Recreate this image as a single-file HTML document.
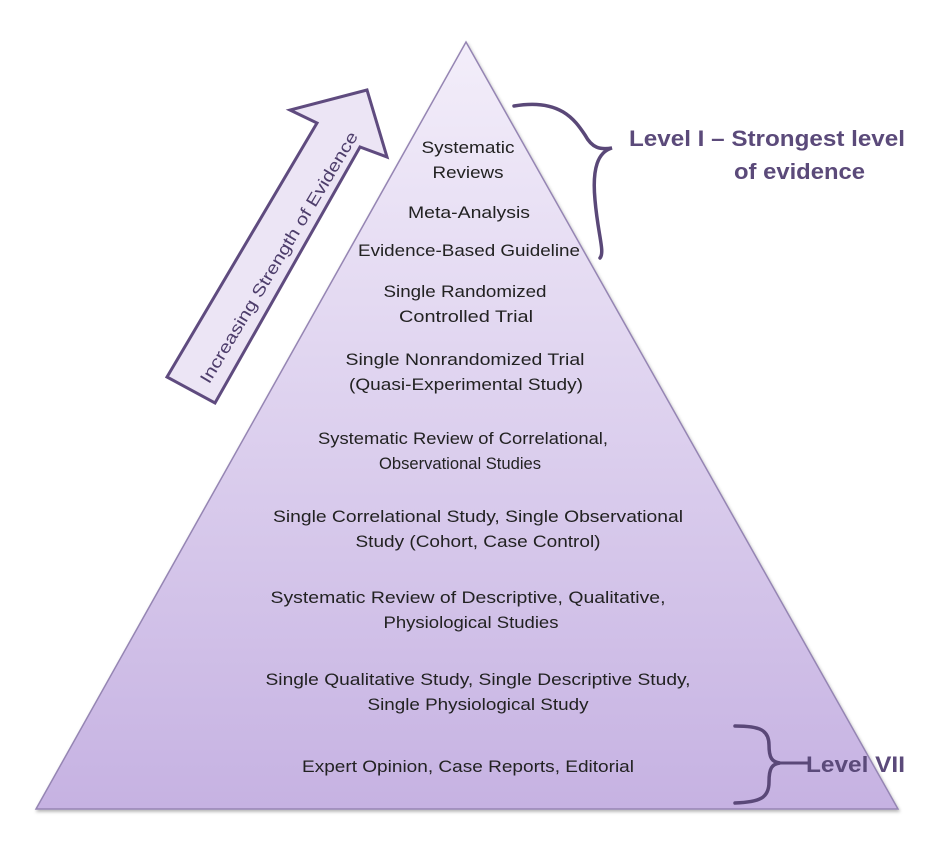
<!DOCTYPE html>
<html><head><meta charset="utf-8"><style>
html,body{margin:0;padding:0;background:#fff;}
svg{display:block;}
text{font-family:"Liberation Sans",sans-serif;}
</style></head><body>
<svg width="944" height="854" viewBox="0 0 944 854" xmlns="http://www.w3.org/2000/svg">
<defs>
<linearGradient id="g" x1="0" y1="0" x2="0" y2="1">
<stop offset="0" stop-color="#f3eefa"/>
<stop offset="1" stop-color="#c6b2e2"/>
</linearGradient>
<filter id="sh" x="-5%" y="-5%" width="110%" height="110%"><feDropShadow dx="1" dy="2" stdDeviation="1.5" flood-color="#000" flood-opacity="0.3"/></filter>
</defs>
<polygon points="466,42 898,809 36,809" fill="url(#g)" stroke="#9585b3" stroke-width="1.5" filter="url(#sh)"/>
<polygon points="167,377 317,123 290,110 367,90 387,157 360,147 215,403" fill="#ece5f5" stroke="#5f4b7f" stroke-width="3" stroke-linejoin="miter"/>
<text x="0" y="0" transform="translate(280,258) rotate(-59)" text-anchor="middle" dominant-baseline="middle" font-size="17" fill="#4d3d6b" textLength="290" lengthAdjust="spacingAndGlyphs">Increasing Strength of Evidence</text>
<g font-size="17" fill="#222" text-anchor="middle" lengthAdjust="spacingAndGlyphs">
<text x="468" y="153" textLength="93" lengthAdjust="spacingAndGlyphs">Systematic</text>
<text x="468" y="178" textLength="71" lengthAdjust="spacingAndGlyphs">Reviews</text>
<text x="469" y="218" textLength="122" lengthAdjust="spacingAndGlyphs">Meta-Analysis</text>
<text x="469" y="256" textLength="222" lengthAdjust="spacingAndGlyphs">Evidence-Based Guideline</text>
<text x="465" y="297" textLength="163" lengthAdjust="spacingAndGlyphs">Single Randomized</text>
<text x="466" y="322" textLength="134" lengthAdjust="spacingAndGlyphs">Controlled Trial</text>
<text x="465" y="365" textLength="239" lengthAdjust="spacingAndGlyphs">Single Nonrandomized Trial</text>
<text x="466" y="390" textLength="234" lengthAdjust="spacingAndGlyphs">(Quasi-Experimental Study)</text>
<text x="463" y="444" textLength="290" lengthAdjust="spacingAndGlyphs">Systematic Review of Correlational,</text>
<text x="460" y="469" textLength="162" lengthAdjust="spacingAndGlyphs">Observational Studies</text>
<text x="478" y="522" textLength="410" lengthAdjust="spacingAndGlyphs">Single Correlational Study, Single Observational</text>
<text x="478" y="547" textLength="245" lengthAdjust="spacingAndGlyphs">Study (Cohort, Case Control)</text>
<text x="468" y="603" textLength="395" lengthAdjust="spacingAndGlyphs">Systematic Review of Descriptive, Qualitative,</text>
<text x="471" y="628" textLength="175" lengthAdjust="spacingAndGlyphs">Physiological Studies</text>
<text x="478" y="685" textLength="425" lengthAdjust="spacingAndGlyphs">Single Qualitative Study, Single Descriptive Study,</text>
<text x="478" y="710" textLength="221" lengthAdjust="spacingAndGlyphs">Single Physiological Study</text>
<text x="468" y="772" textLength="332" lengthAdjust="spacingAndGlyphs">Expert Opinion, Case Reports, Editorial</text>
</g>
<path d="M514,106 C560,98 575,120 585,135 C592,148 600,150 612,148 C598,152 592,168 595,200 C598,235 605,252 600,258" fill="none" stroke="#5a4878" stroke-width="3.5" stroke-linecap="round"/>
<g font-size="22" font-weight="bold" fill="#5b4a7a">
<text x="629" y="146" textLength="276" lengthAdjust="spacingAndGlyphs">Level I – Strongest  level</text>
<text x="734" y="179" textLength="131" lengthAdjust="spacingAndGlyphs">of evidence</text>
<text x="806" y="772" textLength="99" lengthAdjust="spacingAndGlyphs">Level VII</text>
</g>
<path d="M735,726 C760,726 769,730 769,745 C769,758 772,762 780,763 C772,764 769,768 769,782 C769,798 760,802 735,803" fill="none" stroke="#5a4878" stroke-width="3.5" stroke-linecap="round"/>
<line x1="778" y1="763" x2="808" y2="763" stroke="#5a4878" stroke-width="3"/>
</svg>
</body></html>
